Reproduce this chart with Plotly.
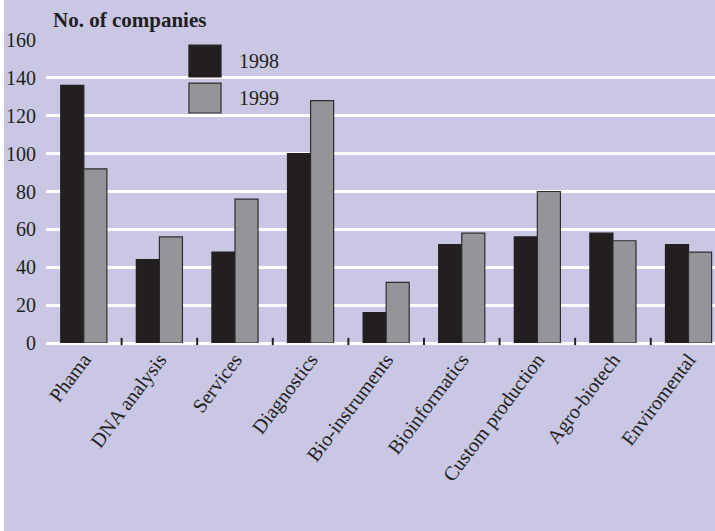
import plotly.graph_objects as go

# Number of biotech companies by sector
categories = ["Phama", "DNA analysis", "Services", "Diagnostics", "Bio-instruments",
              "Bioinformatics", "Custom production", "Agro-biotech", "Enviromental"]
years = ["1998", "1999"]
values_1998 = [136, 44, 48, 100, 16, 52, 56, 58, 52]
values_1999 = [92, 56, 76, 128, 32, 58, 80, 54, 48]
y_ticks = [0, 20, 40, 60, 80, 100, 120, 140, 160]

BG = "#c9c7e4"
INK = "#231f20"
GREY = "#939598"
FONT = "Liberation Serif"

series = [(years[0], values_1998, INK, INK), (years[1], values_1999, GREY, "#2e2c2e")]

fig = go.Figure()
for name, vals, fill, edge in series:
    fig.add_trace(go.Bar(
        x=list(range(len(categories))), y=vals, name=name,
        marker=dict(color=fill, line=dict(color=edge, width=1.2)),
        showlegend=False,
    ))

shapes = []
annotations = []

# small separator ticks between the category groups
for i in range(len(categories) - 1):
    shapes.append(dict(type="line", xref="x", yref="paper",
                       x0=i + 0.5, x1=i + 0.5, y0=-0.007, y1=0.017,
                       line=dict(color=INK, width=2), layer="above"))

# legend: large swatches with the year beside each
swatch_rows = [(0.983, 0.878), (0.858, 0.759)]
for (name, vals, fill, edge), (top, bottom) in zip(series, swatch_rows):
    shapes.append(dict(type="rect", xref="paper", yref="paper",
                       x0=0.2137, x1=0.2616, y0=bottom, y1=top,
                       fillcolor=fill, line=dict(color=edge, width=1.2), layer="above"))
    annotations.append(dict(text=name, xref="paper", yref="paper",
                            x=0.2855, y=(top + bottom) / 2, xanchor="left", yanchor="middle",
                            showarrow=False, font=dict(family=FONT, size=20, color=INK)))

# thin white strip along the left edge of the page
shapes.append(dict(type="rect", xref="paper", yref="paper",
                   x0=-46 / 669, x1=-42 / 669, y0=-188 / 303, y1=40 / 303 + 1,
                   fillcolor="white", line=dict(width=0), layer="above"))

annotations.append(dict(text="<b>No. of companies</b>", xref="paper", yref="paper",
                        x=5 / 669, y=1 + 20 / 303, xanchor="left", yanchor="middle",
                        showarrow=False, font=dict(family=FONT, size=21, color=INK)))

fig.update_layout(
    width=715, height=531,
    margin=dict(l=46, r=0, t=40, b=188),
    paper_bgcolor=BG, plot_bgcolor=BG,
    barmode="group", bargap=0.39, bargroupgap=0,
    font=dict(family=FONT, size=20, color=INK),
    shapes=shapes, annotations=annotations,
    xaxis=dict(
        range=[-0.5, 8.35],
        tickmode="array", tickvals=list(range(len(categories))), ticktext=categories,
        tickangle=-53, showgrid=False, zeroline=False, showline=False, ticks="",
        tickfont=dict(family=FONT, size=20, color=INK),
    ),
    yaxis=dict(
        range=[0, 160], tickmode="array", tickvals=y_ticks,
        showgrid=True, gridcolor="white", gridwidth=2.5,
        zeroline=True, zerolinecolor="white", zerolinewidth=2.5,
        showline=False, ticks="", ticklabelstandoff=9,
        tickfont=dict(family=FONT, size=20, color=INK),
    ),
)

fig.write_html("out.html")
